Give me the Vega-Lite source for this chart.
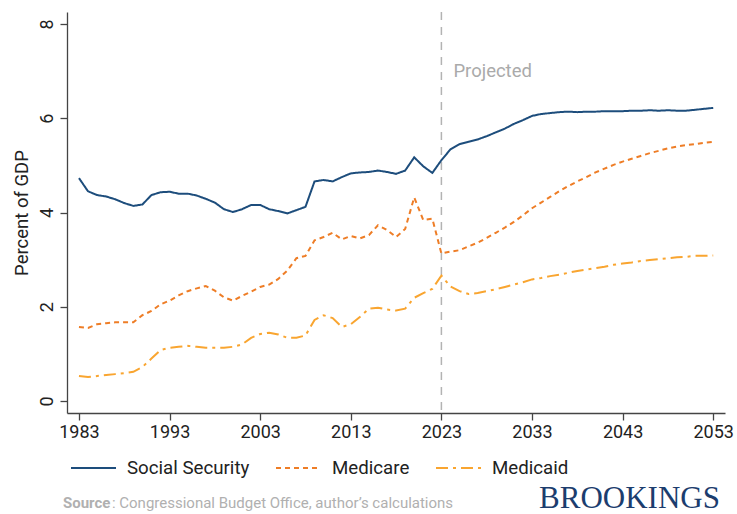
{
  "$schema": "https://vega.github.io/schema/vega-lite/v6.json",
  "width": 658,
  "height": 401,
  "autosize": {"type": "none"},
  "padding": {"left": 67, "top": 12, "right": 12, "bottom": 101},
  "background": "white",
  "config": {"font": "Roboto", "view": {"stroke": null}},
  "datasets": {
    "series": [
      {"year": 1983, "series": "Social Security", "value": 4.73},
      {"year": 1984, "series": "Social Security", "value": 4.45},
      {"year": 1985, "series": "Social Security", "value": 4.37},
      {"year": 1986, "series": "Social Security", "value": 4.34},
      {"year": 1987, "series": "Social Security", "value": 4.28},
      {"year": 1988, "series": "Social Security", "value": 4.20},
      {"year": 1989, "series": "Social Security", "value": 4.14},
      {"year": 1990, "series": "Social Security", "value": 4.17},
      {"year": 1991, "series": "Social Security", "value": 4.37},
      {"year": 1992, "series": "Social Security", "value": 4.43},
      {"year": 1993, "series": "Social Security", "value": 4.44},
      {"year": 1994, "series": "Social Security", "value": 4.40},
      {"year": 1995, "series": "Social Security", "value": 4.40},
      {"year": 1996, "series": "Social Security", "value": 4.36},
      {"year": 1997, "series": "Social Security", "value": 4.29},
      {"year": 1998, "series": "Social Security", "value": 4.21},
      {"year": 1999, "series": "Social Security", "value": 4.07},
      {"year": 2000, "series": "Social Security", "value": 4.01},
      {"year": 2001, "series": "Social Security", "value": 4.07},
      {"year": 2002, "series": "Social Security", "value": 4.16},
      {"year": 2003, "series": "Social Security", "value": 4.16},
      {"year": 2004, "series": "Social Security", "value": 4.07},
      {"year": 2005, "series": "Social Security", "value": 4.03},
      {"year": 2006, "series": "Social Security", "value": 3.98},
      {"year": 2007, "series": "Social Security", "value": 4.05},
      {"year": 2008, "series": "Social Security", "value": 4.12},
      {"year": 2009, "series": "Social Security", "value": 4.66},
      {"year": 2010, "series": "Social Security", "value": 4.69},
      {"year": 2011, "series": "Social Security", "value": 4.66},
      {"year": 2012, "series": "Social Security", "value": 4.75},
      {"year": 2013, "series": "Social Security", "value": 4.83},
      {"year": 2014, "series": "Social Security", "value": 4.85},
      {"year": 2015, "series": "Social Security", "value": 4.86},
      {"year": 2016, "series": "Social Security", "value": 4.89},
      {"year": 2017, "series": "Social Security", "value": 4.86},
      {"year": 2018, "series": "Social Security", "value": 4.82},
      {"year": 2019, "series": "Social Security", "value": 4.89},
      {"year": 2020, "series": "Social Security", "value": 5.17},
      {"year": 2021, "series": "Social Security", "value": 4.98},
      {"year": 2022, "series": "Social Security", "value": 4.84},
      {"year": 2023, "series": "Social Security", "value": 5.11},
      {"year": 2024, "series": "Social Security", "value": 5.34},
      {"year": 2025, "series": "Social Security", "value": 5.45},
      {"year": 2026, "series": "Social Security", "value": 5.50},
      {"year": 2027, "series": "Social Security", "value": 5.55},
      {"year": 2028, "series": "Social Security", "value": 5.62},
      {"year": 2029, "series": "Social Security", "value": 5.70},
      {"year": 2030, "series": "Social Security", "value": 5.78},
      {"year": 2031, "series": "Social Security", "value": 5.88},
      {"year": 2032, "series": "Social Security", "value": 5.96},
      {"year": 2033, "series": "Social Security", "value": 6.05},
      {"year": 2034, "series": "Social Security", "value": 6.09},
      {"year": 2035, "series": "Social Security", "value": 6.11},
      {"year": 2036, "series": "Social Security", "value": 6.13},
      {"year": 2037, "series": "Social Security", "value": 6.14},
      {"year": 2038, "series": "Social Security", "value": 6.13},
      {"year": 2039, "series": "Social Security", "value": 6.14},
      {"year": 2040, "series": "Social Security", "value": 6.14},
      {"year": 2041, "series": "Social Security", "value": 6.15},
      {"year": 2042, "series": "Social Security", "value": 6.15},
      {"year": 2043, "series": "Social Security", "value": 6.15},
      {"year": 2044, "series": "Social Security", "value": 6.16},
      {"year": 2045, "series": "Social Security", "value": 6.16},
      {"year": 2046, "series": "Social Security", "value": 6.17},
      {"year": 2047, "series": "Social Security", "value": 6.16},
      {"year": 2048, "series": "Social Security", "value": 6.17},
      {"year": 2049, "series": "Social Security", "value": 6.16},
      {"year": 2050, "series": "Social Security", "value": 6.16},
      {"year": 2051, "series": "Social Security", "value": 6.18},
      {"year": 2052, "series": "Social Security", "value": 6.20},
      {"year": 2053, "series": "Social Security", "value": 6.22},
      {"year": 1983, "series": "Medicare", "value": 1.57},
      {"year": 1984, "series": "Medicare", "value": 1.55},
      {"year": 1985, "series": "Medicare", "value": 1.63},
      {"year": 1986, "series": "Medicare", "value": 1.65},
      {"year": 1987, "series": "Medicare", "value": 1.67},
      {"year": 1988, "series": "Medicare", "value": 1.67},
      {"year": 1989, "series": "Medicare", "value": 1.67},
      {"year": 1990, "series": "Medicare", "value": 1.82},
      {"year": 1991, "series": "Medicare", "value": 1.91},
      {"year": 1992, "series": "Medicare", "value": 2.05},
      {"year": 1993, "series": "Medicare", "value": 2.13},
      {"year": 1994, "series": "Medicare", "value": 2.24},
      {"year": 1995, "series": "Medicare", "value": 2.33},
      {"year": 1996, "series": "Medicare", "value": 2.39},
      {"year": 1997, "series": "Medicare", "value": 2.44},
      {"year": 1998, "series": "Medicare", "value": 2.34},
      {"year": 1999, "series": "Medicare", "value": 2.20},
      {"year": 2000, "series": "Medicare", "value": 2.13},
      {"year": 2001, "series": "Medicare", "value": 2.23},
      {"year": 2002, "series": "Medicare", "value": 2.32},
      {"year": 2003, "series": "Medicare", "value": 2.42},
      {"year": 2004, "series": "Medicare", "value": 2.47},
      {"year": 2005, "series": "Medicare", "value": 2.59},
      {"year": 2006, "series": "Medicare", "value": 2.77},
      {"year": 2007, "series": "Medicare", "value": 3.03},
      {"year": 2008, "series": "Medicare", "value": 3.08},
      {"year": 2009, "series": "Medicare", "value": 3.41},
      {"year": 2010, "series": "Medicare", "value": 3.48},
      {"year": 2011, "series": "Medicare", "value": 3.57},
      {"year": 2012, "series": "Medicare", "value": 3.43},
      {"year": 2013, "series": "Medicare", "value": 3.50},
      {"year": 2014, "series": "Medicare", "value": 3.45},
      {"year": 2015, "series": "Medicare", "value": 3.52},
      {"year": 2016, "series": "Medicare", "value": 3.73},
      {"year": 2017, "series": "Medicare", "value": 3.63},
      {"year": 2018, "series": "Medicare", "value": 3.48},
      {"year": 2019, "series": "Medicare", "value": 3.65},
      {"year": 2020, "series": "Medicare", "value": 4.32},
      {"year": 2021, "series": "Medicare", "value": 3.84},
      {"year": 2022, "series": "Medicare", "value": 3.87},
      {"year": 2023, "series": "Medicare", "value": 3.13},
      {"year": 2024, "series": "Medicare", "value": 3.17},
      {"year": 2025, "series": "Medicare", "value": 3.20},
      {"year": 2026, "series": "Medicare", "value": 3.28},
      {"year": 2027, "series": "Medicare", "value": 3.36},
      {"year": 2028, "series": "Medicare", "value": 3.46},
      {"year": 2029, "series": "Medicare", "value": 3.57},
      {"year": 2030, "series": "Medicare", "value": 3.68},
      {"year": 2031, "series": "Medicare", "value": 3.80},
      {"year": 2032, "series": "Medicare", "value": 3.94},
      {"year": 2033, "series": "Medicare", "value": 4.09},
      {"year": 2034, "series": "Medicare", "value": 4.21},
      {"year": 2035, "series": "Medicare", "value": 4.33},
      {"year": 2036, "series": "Medicare", "value": 4.45},
      {"year": 2037, "series": "Medicare", "value": 4.56},
      {"year": 2038, "series": "Medicare", "value": 4.66},
      {"year": 2039, "series": "Medicare", "value": 4.75},
      {"year": 2040, "series": "Medicare", "value": 4.85},
      {"year": 2041, "series": "Medicare", "value": 4.93},
      {"year": 2042, "series": "Medicare", "value": 5.01},
      {"year": 2043, "series": "Medicare", "value": 5.08},
      {"year": 2044, "series": "Medicare", "value": 5.14},
      {"year": 2045, "series": "Medicare", "value": 5.20},
      {"year": 2046, "series": "Medicare", "value": 5.26},
      {"year": 2047, "series": "Medicare", "value": 5.31},
      {"year": 2048, "series": "Medicare", "value": 5.36},
      {"year": 2049, "series": "Medicare", "value": 5.40},
      {"year": 2050, "series": "Medicare", "value": 5.43},
      {"year": 2051, "series": "Medicare", "value": 5.45},
      {"year": 2052, "series": "Medicare", "value": 5.48},
      {"year": 2053, "series": "Medicare", "value": 5.50},
      {"year": 1983, "series": "Medicaid", "value": 0.53},
      {"year": 1984, "series": "Medicaid", "value": 0.51},
      {"year": 1985, "series": "Medicaid", "value": 0.53},
      {"year": 1986, "series": "Medicaid", "value": 0.55},
      {"year": 1987, "series": "Medicaid", "value": 0.57},
      {"year": 1988, "series": "Medicaid", "value": 0.59},
      {"year": 1989, "series": "Medicaid", "value": 0.62},
      {"year": 1990, "series": "Medicaid", "value": 0.72},
      {"year": 1991, "series": "Medicaid", "value": 0.90},
      {"year": 1992, "series": "Medicaid", "value": 1.08},
      {"year": 1993, "series": "Medicaid", "value": 1.13},
      {"year": 1994, "series": "Medicaid", "value": 1.15},
      {"year": 1995, "series": "Medicaid", "value": 1.17},
      {"year": 1996, "series": "Medicaid", "value": 1.15},
      {"year": 1997, "series": "Medicaid", "value": 1.13},
      {"year": 1998, "series": "Medicaid", "value": 1.13},
      {"year": 1999, "series": "Medicaid", "value": 1.13},
      {"year": 2000, "series": "Medicaid", "value": 1.15},
      {"year": 2001, "series": "Medicaid", "value": 1.20},
      {"year": 2002, "series": "Medicaid", "value": 1.34},
      {"year": 2003, "series": "Medicaid", "value": 1.42},
      {"year": 2004, "series": "Medicaid", "value": 1.45},
      {"year": 2005, "series": "Medicaid", "value": 1.41},
      {"year": 2006, "series": "Medicaid", "value": 1.34},
      {"year": 2007, "series": "Medicaid", "value": 1.34},
      {"year": 2008, "series": "Medicaid", "value": 1.39},
      {"year": 2009, "series": "Medicaid", "value": 1.72},
      {"year": 2010, "series": "Medicaid", "value": 1.82},
      {"year": 2011, "series": "Medicaid", "value": 1.76},
      {"year": 2012, "series": "Medicaid", "value": 1.57},
      {"year": 2013, "series": "Medicaid", "value": 1.63},
      {"year": 2014, "series": "Medicaid", "value": 1.78},
      {"year": 2015, "series": "Medicaid", "value": 1.96},
      {"year": 2016, "series": "Medicaid", "value": 1.98},
      {"year": 2017, "series": "Medicaid", "value": 1.94},
      {"year": 2018, "series": "Medicaid", "value": 1.92},
      {"year": 2019, "series": "Medicaid", "value": 1.96},
      {"year": 2020, "series": "Medicaid", "value": 2.19},
      {"year": 2021, "series": "Medicaid", "value": 2.29},
      {"year": 2022, "series": "Medicaid", "value": 2.38},
      {"year": 2023, "series": "Medicaid", "value": 2.66},
      {"year": 2024, "series": "Medicaid", "value": 2.43},
      {"year": 2025, "series": "Medicaid", "value": 2.33},
      {"year": 2026, "series": "Medicaid", "value": 2.27},
      {"year": 2027, "series": "Medicaid", "value": 2.29},
      {"year": 2028, "series": "Medicaid", "value": 2.33},
      {"year": 2029, "series": "Medicaid", "value": 2.37},
      {"year": 2030, "series": "Medicaid", "value": 2.42},
      {"year": 2031, "series": "Medicaid", "value": 2.47},
      {"year": 2032, "series": "Medicaid", "value": 2.52},
      {"year": 2033, "series": "Medicaid", "value": 2.58},
      {"year": 2034, "series": "Medicaid", "value": 2.61},
      {"year": 2035, "series": "Medicaid", "value": 2.65},
      {"year": 2036, "series": "Medicaid", "value": 2.68},
      {"year": 2037, "series": "Medicaid", "value": 2.72},
      {"year": 2038, "series": "Medicaid", "value": 2.76},
      {"year": 2039, "series": "Medicaid", "value": 2.79},
      {"year": 2040, "series": "Medicaid", "value": 2.82},
      {"year": 2041, "series": "Medicaid", "value": 2.85},
      {"year": 2042, "series": "Medicaid", "value": 2.89},
      {"year": 2043, "series": "Medicaid", "value": 2.92},
      {"year": 2044, "series": "Medicaid", "value": 2.94},
      {"year": 2045, "series": "Medicaid", "value": 2.97},
      {"year": 2046, "series": "Medicaid", "value": 2.99},
      {"year": 2047, "series": "Medicaid", "value": 3.01},
      {"year": 2048, "series": "Medicaid", "value": 3.03},
      {"year": 2049, "series": "Medicaid", "value": 3.05},
      {"year": 2050, "series": "Medicaid", "value": 3.06},
      {"year": 2051, "series": "Medicaid", "value": 3.08},
      {"year": 2052, "series": "Medicaid", "value": 3.08},
      {"year": 2053, "series": "Medicaid", "value": 3.09}
    ],
    "marker": [{"year": 2023, "label": "Projected"}],
    "footer": [{"source": "Source", "rest": ": Congressional Budget Office, author’s calculations", "brand": "BROOKINGS"}]
  },
  "layer": [
    {
      "data": {"name": "marker"},
      "mark": {"type": "rule", "color": "#b3b3b3", "strokeWidth": 1.5, "strokeDash": [8, 7]},
      "encoding": {
        "x": {"field": "year", "type": "quantitative", "scale": {"domain": [1981.68, 2054.3], "nice": false, "zero": false}}
      }
    },
    {
      "data": {"name": "series"},
      "mark": {"type": "line", "strokeWidth": 2},
      "encoding": {
        "x": {
          "field": "year", "type": "quantitative",
          "scale": {"domain": [1981.68, 2054.3], "nice": false, "zero": false},
          "axis": {
            "values": [1983, 1993, 2003, 2013, 2023, 2033, 2043, 2053],
            "format": "d", "title": null, "grid": false,
            "labelFontSize": 18, "labelColor": "#222", "labelPadding": 3,
            "tickSize": 7, "tickColor": "#444", "domainColor": "#444", "domainWidth": 1.3, "tickWidth": 1.3,
            "labelFlush": false
          }
        },
        "y": {
          "field": "value", "type": "quantitative",
          "scale": {"domain": [-0.255, 8.255], "nice": false, "zero": false},
          "axis": {
            "values": [0, 2, 4, 6, 8], "title": "Percent of GDP", "grid": false,
            "labelAngle": -90, "labelAlign": "center", "labelBaseline": "bottom",
            "labelFontSize": 18, "labelColor": "#222", "labelPadding": 4,
            "titleFontSize": 18.5, "titleFontWeight": "normal", "titleColor": "#222", "titlePadding": 7,
            "tickSize": 7, "tickColor": "#444", "domainColor": "#444", "domainWidth": 1.3, "tickWidth": 1.3
          }
        },
        "color": {
          "field": "series", "type": "nominal",
          "scale": {"domain": ["Social Security", "Medicare", "Medicaid"], "range": ["#1d4d7c", "#ee7d26", "#f9a530"]},
          "legend": {
            "orient": "none", "legendX": 3, "legendY": 432, "direction": "horizontal", "title": null,
            "symbolType": "stroke", "symbolSize": 2025, "symbolStrokeWidth": 2,
            "labelFontSize": 18.7, "labelColor": "#222", "labelOffset": 10, "columnPadding": 22
          }
        },
        "strokeDash": {
          "field": "series", "type": "nominal",
          "scale": {"domain": ["Social Security", "Medicare", "Medicaid"], "range": [[1, 0], [5, 4], [12, 5, 3, 5]]},
          "legend": {
            "orient": "none", "legendX": 3, "legendY": 432, "direction": "horizontal", "title": null,
            "symbolType": "stroke", "symbolSize": 2025, "symbolStrokeWidth": 2,
            "labelFontSize": 18.7, "labelColor": "#222", "labelOffset": 10, "columnPadding": 22
          }
        }
      }
    },
    {
      "data": {"name": "marker"},
      "mark": {"type": "text", "align": "left", "baseline": "middle", "dx": 12, "fontSize": 18.5, "color": "#aaaaaa"},
      "encoding": {
        "x": {"field": "year", "type": "quantitative"},
        "y": {"datum": 7.0, "type": "quantitative"},
        "text": {"field": "label"}
      }
    },
    {
      "data": {"name": "footer"},
      "mark": {"type": "text", "align": "left", "baseline": "middle", "fontSize": 15, "fontWeight": "bold", "color": "#b0b0b0"},
      "encoding": {
        "x": {"datum": 1981.23, "type": "quantitative"},
        "y": {"datum": -2.17, "type": "quantitative"},
        "text": {"field": "source"}
      }
    },
    {
      "data": {"name": "footer"},
      "mark": {"type": "text", "align": "left", "baseline": "middle", "fontSize": 15, "dx": 49, "color": "#b0b0b0"},
      "encoding": {
        "x": {"datum": 1981.23, "type": "quantitative"},
        "y": {"datum": -2.17, "type": "quantitative"},
        "text": {"field": "rest"}
      }
    },
    {
      "data": {"name": "footer"},
      "mark": {"type": "text", "align": "right", "baseline": "middle", "fontSize": 31, "font": "Liberation Serif", "color": "#1c3d6e"},
      "encoding": {
        "x": {"datum": 2053.74, "type": "quantitative"},
        "y": {"datum": -2.07, "type": "quantitative"},
        "text": {"field": "brand"}
      }
    }
  ]
}
